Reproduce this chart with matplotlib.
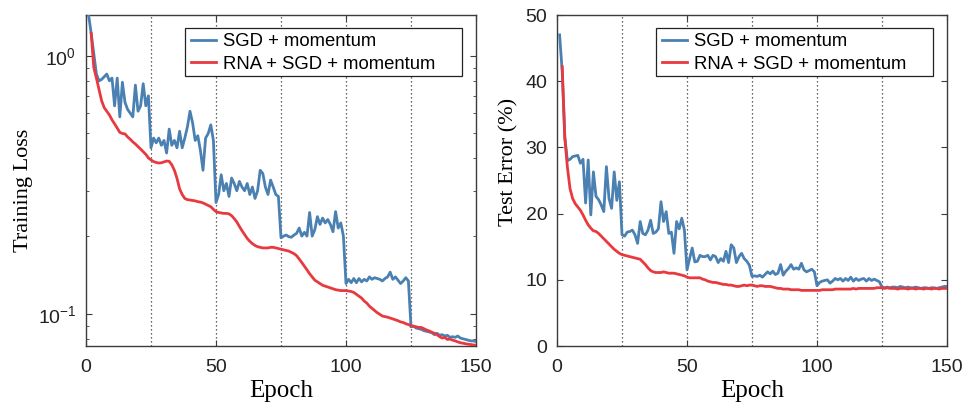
import numpy as np
from matplotlib import pyplot as plt
from matplotlib.patches import Rectangle
from matplotlib.ticker import FixedLocator, NullFormatter, FuncFormatter

plt.rcParams['font.family'] = ['Liberation Sans', 'DejaVu Sans']
plt.rcParams['mathtext.fontset'] = 'custom'
plt.rcParams['mathtext.rm'] = 'Liberation Sans'
plt.rcParams['mathtext.it'] = 'Liberation Sans'

# training loss, SGD + momentum, epochs 1..150
train_sgd = [
    1.44, 1.22, 1.02, 0.85, 0.80, 0.81, 0.83, 0.85, 0.80, 0.82,
    0.64, 0.82, 0.58, 0.79, 0.66, 0.62, 0.60, 0.58, 0.77, 0.61,
    0.64, 0.78, 0.64, 0.70,
    0.44, 0.48, 0.46, 0.48, 0.45, 0.47, 0.42, 0.52, 0.45, 0.47,
    0.44, 0.51, 0.44, 0.48, 0.53, 0.61, 0.55, 0.47, 0.49, 0.43,
    0.36, 0.48, 0.50, 0.54, 0.47,
    0.27, 0.29, 0.346, 0.30, 0.32, 0.285, 0.336, 0.32, 0.30, 0.326,
    0.31, 0.30, 0.32, 0.29, 0.31, 0.28, 0.30, 0.36, 0.35, 0.31,
    0.29, 0.33, 0.31, 0.29, 0.285,
    0.197, 0.200, 0.202, 0.199, 0.198, 0.202, 0.205, 0.215, 0.200, 0.207,
    0.200, 0.247, 0.200, 0.212, 0.238, 0.222, 0.235, 0.225, 0.232, 0.222,
    0.208, 0.249, 0.215, 0.225, 0.200,
    0.131, 0.136, 0.132, 0.137, 0.132, 0.137, 0.133, 0.136, 0.134, 0.139,
    0.136, 0.138, 0.137, 0.136, 0.134, 0.137, 0.139, 0.145, 0.136, 0.139,
    0.135, 0.131, 0.134, 0.138, 0.134,
    0.089, 0.0895, 0.088, 0.0875, 0.087, 0.086, 0.0855, 0.085, 0.0845, 0.083,
    0.084, 0.0825, 0.083, 0.082, 0.0825, 0.081, 0.0815, 0.081, 0.082, 0.0805,
    0.080, 0.0795, 0.079, 0.0785, 0.0785, 0.078,
]

# training loss, RNA + SGD + momentum, epochs 2..150
train_rna = [
    1.22, 0.90, 0.82, 0.74, 0.67, 0.63, 0.61, 0.59, 0.565,
    0.545, 0.525, 0.505, 0.50, 0.498, 0.485, 0.475, 0.464, 0.455, 0.445,
    0.435, 0.425, 0.415, 0.402, 0.395, 0.389, 0.386, 0.384, 0.385, 0.388,
    0.391, 0.39, 0.378, 0.36, 0.335, 0.305, 0.29, 0.28, 0.277, 0.276,
    0.275, 0.274, 0.272, 0.271, 0.269, 0.266, 0.263, 0.260, 0.254, 0.249,
    0.247, 0.246, 0.245, 0.245, 0.244, 0.240, 0.234, 0.227, 0.218, 0.210,
    0.203, 0.196, 0.191, 0.187, 0.184, 0.182, 0.181, 0.180, 0.180, 0.180,
    0.181, 0.181, 0.180, 0.179, 0.178, 0.177, 0.176, 0.175, 0.173, 0.171,
    0.168, 0.163, 0.158, 0.153, 0.148, 0.143, 0.139, 0.135, 0.133, 0.131,
    0.129, 0.128, 0.127, 0.126, 0.125, 0.124, 0.1235, 0.123, 0.123, 0.123,
    0.1225, 0.122, 0.121, 0.119, 0.117, 0.115, 0.112, 0.110, 0.107, 0.105,
    0.103, 0.101, 0.0995, 0.098, 0.0975, 0.097, 0.0962, 0.0955, 0.0948, 0.094,
    0.093, 0.0925, 0.0915, 0.0908, 0.090, 0.0895, 0.089, 0.0885, 0.0885, 0.0875,
    0.0865, 0.0858, 0.0848, 0.0840, 0.0830, 0.0815, 0.0805, 0.0810, 0.0795, 0.0798,
    0.0790, 0.0785, 0.0778, 0.0772, 0.0769, 0.0765, 0.0762, 0.0760, 0.0757, 0.0755,
]

# test error (%), SGD + momentum, epochs 1..150
test_sgd = [
    47.0, 41.5, 31.5, 28.0, 28.2, 28.6, 28.7, 28.8, 27.6, 28.2,
    21.6, 28.1, 19.8, 26.3, 22.6, 22.1, 21.3, 20.3, 27.1, 22.3,
    20.8, 26.3, 22.0, 24.8,
    16.8, 16.6, 17.2, 17.3, 17.5, 16.8, 15.5, 18.8, 17.0, 16.8,
    17.5, 19.0, 17.0, 17.2, 17.7, 21.8, 18.8, 20.3, 17.0, 17.2,
    14.0, 18.8, 17.7, 19.3, 17.5,
    11.5, 13.2, 14.8, 12.7, 12.8, 13.7, 13.5, 13.5, 13.7, 13.0,
    13.7, 13.5, 12.6, 13.2, 12.8, 14.3, 12.6, 15.3, 14.8, 12.6,
    13.5, 14.0, 13.2, 12.8, 12.2,
    10.5, 10.6, 10.5, 10.7, 10.4, 10.8, 11.2, 10.9, 11.3, 10.8,
    11.0, 12.3, 10.7, 11.3, 11.7, 12.3, 11.6, 11.8, 11.6, 12.5,
    11.5, 11.2, 11.4, 11.6, 11.2,
    9.1, 9.6, 9.8, 9.9, 10.0, 9.5, 9.8, 10.2, 10.0, 10.2,
    9.8, 10.2, 9.9, 10.4, 9.8, 10.2, 9.9, 10.1, 10.2, 9.8,
    10.2, 9.9, 10.1, 9.9, 9.7,
    8.9, 8.8, 8.9, 8.8, 8.9, 8.9, 8.8, 9.0, 8.9, 8.8,
    8.9, 8.8, 8.8, 8.9, 8.8, 8.7, 8.8, 8.8, 8.7, 8.8,
    8.8, 8.7, 8.8, 8.9, 9.0, 9.0,
]

# test error (%), RNA + SGD + momentum, epochs 2..150
test_rna = [
    42.2, 31.5, 27.0, 23.8, 22.3, 21.5, 21.0, 20.5, 19.8,
    19.0, 18.3, 17.8, 17.4, 17.3, 17.0, 16.6, 16.2, 15.8, 15.4,
    15.0, 14.6, 14.3, 14.0, 13.8, 13.7, 13.6, 13.5, 13.4, 13.3,
    13.2, 13.1, 12.7, 12.3, 11.8, 11.4, 11.2, 11.1, 11.1, 11.1,
    11.2, 11.1, 11.0, 11.0, 11.0, 10.9, 10.8, 10.7, 10.6, 10.4,
    10.3, 10.3, 10.3, 10.3, 10.3, 10.1, 10.0, 9.8, 9.7, 9.6,
    9.6, 9.5, 9.4, 9.3, 9.3, 9.2, 9.2, 9.1, 9.0, 9.0,
    9.1, 9.2, 9.1, 9.2, 9.2, 9.1, 9.0, 9.1, 9.1, 9.0,
    9.0, 9.0, 8.9, 8.8, 8.7, 8.7, 8.6, 8.6, 8.6, 8.5,
    8.5, 8.5, 8.5, 8.4, 8.4, 8.4, 8.4, 8.4, 8.4, 8.4,
    8.4, 8.5, 8.5, 8.5, 8.5, 8.5, 8.6, 8.6, 8.6, 8.6,
    8.6, 8.6, 8.6, 8.7, 8.6, 8.7, 8.7, 8.7, 8.7, 8.7,
    8.7, 8.7, 8.8, 8.8, 8.8, 8.7, 8.8, 8.7, 8.7, 8.7,
    8.6, 8.7, 8.7, 8.7, 8.6, 8.7, 8.7, 8.6, 8.7, 8.7,
    8.6, 8.7, 8.7, 8.6, 8.7, 8.7, 8.6, 8.7, 8.7, 8.7,
]

ep_sgd = np.arange(1, len(train_sgd) + 1)
ep_rna = np.arange(2, len(train_rna) + 2)
lr_steps = [25, 50, 75, 100, 125]

blue = '#4a80b2'
red = '#e8393f'
spine_col = '#3c3c3c'

fig = plt.figure(figsize=(9.66, 4.11), dpi=100)
ax1 = fig.add_axes([86 / 966, 65 / 411, 390 / 966, 331 / 411])
ax2 = fig.add_axes([557 / 966, 65 / 411, 390 / 966, 331 / 411])


def style(ax):
    for s in ax.spines.values():
        s.set_color(spine_col)
        s.set_linewidth(1.0)
    ax.tick_params(which='both', direction='in', top=True, right=True,
                   colors=spine_col, labelcolor='#222222', labelsize=14)
    ax.tick_params(which='major', length=4)
    ax.tick_params(which='minor', length=2.5)
    ax.tick_params(axis='x', which='major', pad=9)
    ax.tick_params(axis='y', which='major', pad=7)
    ax.set_xlim(0, 150)
    ax.set_xticks([0, 50, 100, 150])
    for s in lr_steps:
        ax.axvline(s, color='#333333', lw=0.9, ls=(0, (1, 2.2)), zorder=1)
    ax.set_xlabel('Epoch', family='Liberation Serif', fontsize=18, labelpad=3)


def legend_box(ax):
    leg = ax.legend(loc='upper left', bbox_to_anchor=(0.254, 0.961),
                    borderaxespad=0, fontsize=13.3, frameon=False,
                    handlelength=1.35, handletextpad=0.38, labelspacing=0.28,
                    borderpad=0.3)
    leg.set_zorder(6)
    ax.add_patch(Rectangle((0.254, 0.816), 0.71, 0.145, transform=ax.transAxes,
                           facecolor='white', edgecolor='#222222', lw=0.9, zorder=5))


# left: training loss on log axis
ax1.plot(ep_sgd, train_sgd, color=blue, lw=2.0, label='SGD + momentum', zorder=3)
ax1.plot(ep_rna, train_rna, color=red, lw=2.0, label='RNA + SGD + momentum', zorder=4)
ax1.set_yscale('log')
ax1.set_ylim(0.075, 1.44)
ax1.yaxis.set_major_locator(FixedLocator([0.1, 1.0]))
ax1.yaxis.set_major_formatter(FuncFormatter(
    lambda v, p: r'$10^{0}$' if v > 0.5 else r'$10^{-1}$'))
ax1.yaxis.set_minor_locator(FixedLocator([0.08, 0.09] + [k / 10 for k in range(2, 10)]))
ax1.yaxis.set_minor_formatter(NullFormatter())
style(ax1)
ax1.set_ylabel('Training Loss', family='Liberation Serif', fontsize=16)
ax1.yaxis.set_label_coords(-0.135, 0.47)
legend_box(ax1)

# right: test error
ax2.plot(ep_sgd, test_sgd, color=blue, lw=2.0, label='SGD + momentum', zorder=3)
ax2.plot(ep_rna, test_rna, color=red, lw=2.0, label='RNA + SGD + momentum', zorder=4)
ax2.set_ylim(0, 50)
ax2.set_yticks([0, 10, 20, 30, 40, 50])
style(ax2)
ax2.set_ylabel('Test Error (%)', family='Liberation Serif', fontsize=16)
ax2.yaxis.set_label_coords(-0.1, 0.555)
legend_box(ax2)

fig.savefig('out.png', dpi=100)
